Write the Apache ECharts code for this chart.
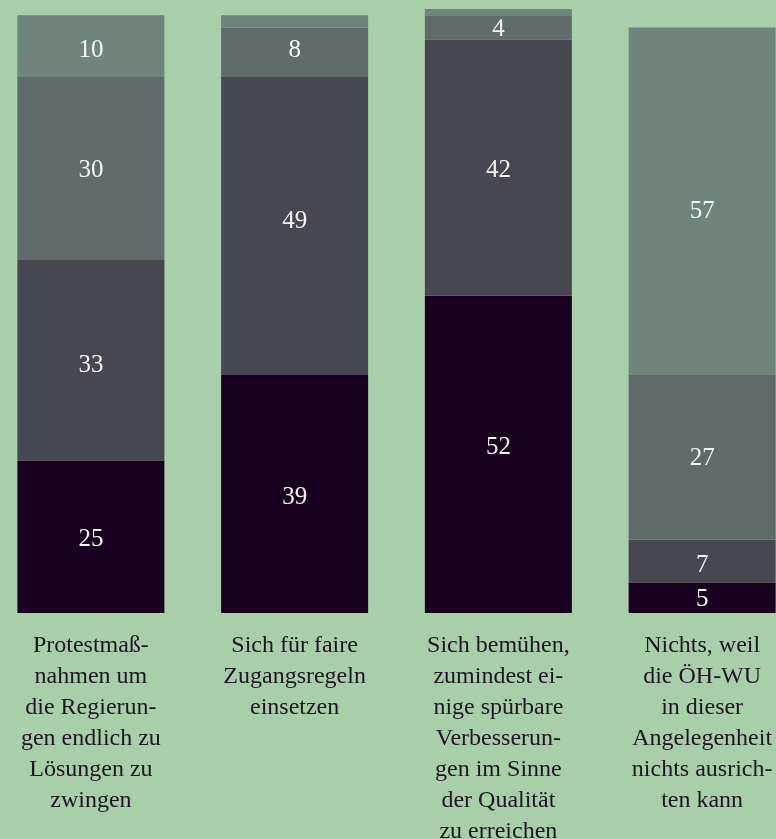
<!DOCTYPE html>
<html>
<head>
<meta charset="utf-8">
<script src="https://cdn.jsdelivr.net/npm/echarts@6/dist/echarts.min.js"></script>
<style>
  html, body { margin: 0; padding: 0; background: #a8cfa9; overflow: hidden; }
  #chart { width: 776px; height: 839px; }
</style>
</head>
<body>
<div id="chart"></div>
<script>
// Kategorien (Zeilenumbrüche wie im Original)
const categories = [
  'Protestmaß-\nnahmen um\ndie Regierun-\ngen endlich zu\nLösungen zu\nzwingen',
  'Sich für faire\nZugangsregeln\neinsetzen',
  'Sich bemühen,\nzumindest ei-\nnige spürbare\nVerbesserun-\ngen im Sinne\nder Qualität\nzu erreichen',
  'Nichts, weil\ndie ÖH-WU\nin dieser\nAngelegenheit\nnichts ausrich-\nten kann'
]

// Werte von unten nach oben
const serie1 = [25, 39, 52, 5]
const serie2 = [33, 49, 42, 7]
const serie3 = [30, 8, 4, 27]
const serie4 = [10, 2, 1, 57]

const colors = ['#1a0020', '#474752', '#5f6b6a', '#6f857c']
const serif = '"Liberation Serif", "DejaVu Serif", serif'

// Label-Verschiebung (y, px) je Serie und Kategorie, wie im Original gesetzt
const labelShift = [
  [3, 3, -7, 2],
  [6, -4, 3, 4],
  [3, -1, 2, 1],
  [5, 0, 0, 10]
]

const myChart = echarts.init(document.getElementById('chart'))

// Segment-Label, kleine Segmente ohne Zahl
const makeSeries = (data, idx) => ({
  type: 'bar',
  stack: 'all',
  barWidth: 147,
  itemStyle: { color: colors[idx] },
  data: data.map((v, i) => ({
    value: v,
    label: { offset: [0, labelShift[idx][i]] }
  })),
  label: {
    show: true,
    position: 'inside',
    color: '#f4f4f4',
    fontFamily: serif,
    fontSize: 25,
    formatter: ({ value }) => (value >= 3 ? value : '')
  }
})

const option = {
  backgroundColor: '#a8cfa9',
  animation: false,
  grid: {
    left: -11,
    right: -28,
    top: 3,
    bottom: 226,
    outerBoundsMode: 'none',
    containLabel: false
  },
  xAxis: {
    type: 'category',
    data: categories,
    axisLine: { show: false },
    axisTick: { show: false },
    axisLabel: {
      interval: 0,
      margin: 17,
      color: '#1e1423',
      fontFamily: serif,
      fontSize: 24,
      lineHeight: 31
    }
  },
  yAxis: {
    type: 'value',
    min: 0,
    max: 100,
    show: false
  },
  series: [
    makeSeries(serie1, 0),
    makeSeries(serie2, 1),
    makeSeries(serie3, 2),
    makeSeries(serie4, 3)
  ]
}

myChart.setOption(option)
</script>
</body>
</html>
